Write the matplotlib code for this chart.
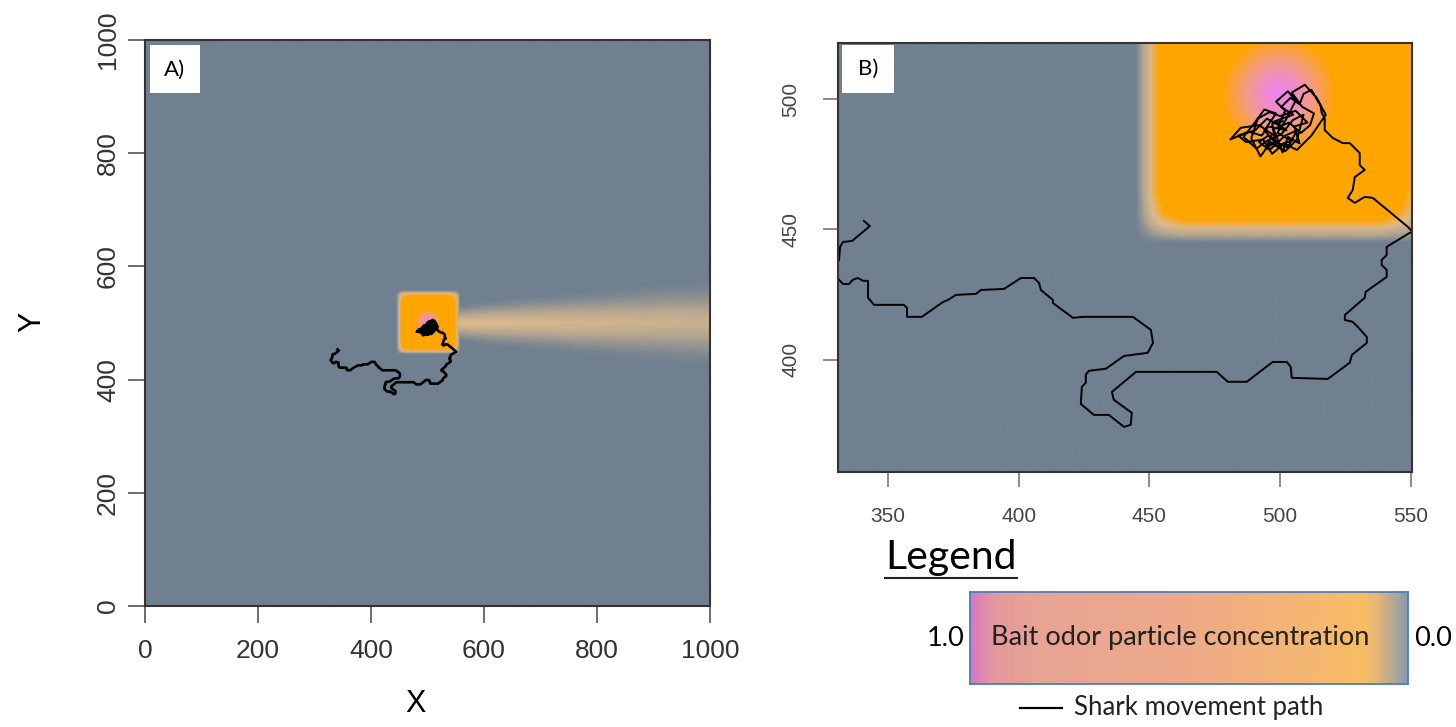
import matplotlib
matplotlib.use("Agg")
import matplotlib.pyplot as plt
import numpy as np
from matplotlib.colors import LinearSegmentedColormap
from matplotlib.lines import Line2D
from matplotlib.patches import Rectangle

# ---- data ----
# odor source: concentration profile across the bait square (same along x and y)
sq_pos = [445, 449, 452, 456, 464, 538, 546, 551, 554, 558]
sq_val = [0.0, 0.22, 0.42, 0.60, 0.76, 0.76, 0.60, 0.42, 0.22, 0.0]
# radial peak at the bait itself
bait_xy = (500, 502)
peak_r = [0, 6, 12, 20, 30]
peak_val = [1.0, 0.95, 0.86, 0.72, 0.5]

# downstream plume (panel A): core value and half width along x, shape across
plume_x = [546, 556, 600, 700, 800, 900, 1000]
plume_core = [0.0, 0.26, 0.25, 0.24, 0.22, 0.20, 0.19]
plume_halfwidth = [30, 33, 40, 50, 60, 70, 78]
across_pos = [0.0, 0.2, 0.4, 0.6, 0.8, 1.0]
across_val = [1.0, 0.8, 0.5, 0.28, 0.1, 0.0]

# shark movement path (x, y)
path_pts = [
    (340.8, 453.3), (343.1, 451.3), (336.3, 445.6), (332.8, 445.2), (331.7, 443.3),
    (331.3, 438.3), (328.5, 434.5), (331.3, 430.7), (332.8, 429.1), (335.1, 429.1),
    (336.6, 430.7), (338.5, 431.4), (340.5, 430.3), (342.4, 430.3), (342.4, 423.8),
    (344.7, 421.1), (356.1, 421.1), (357.3, 419.9), (357.3, 416.5), (363.0, 416.5),
    (371.1, 422.2), (373.0, 423.0), (376.0, 424.9), (383.7, 425.3), (385.6, 426.8),
    (394.4, 427.2), (400.9, 431.4), (405.9, 431.4), (407.8, 429.5), (408.5, 426.8),
    (413.1, 423.0), (413.1, 421.8), (420.8, 416.1), (424.6, 416.5), (443.7, 416.5),
    (450.6, 411.5), (451.4, 406.5), (449.4, 402.7), (440.3, 401.5), (433.4, 396.6),
    (426.9, 395.8), (425.7, 394.3), (425.7, 391.2), (424.2, 389.7), (423.8, 383.1),
    (428.8, 378.9), (434.5, 378.9), (440.3, 374.3), (442.9, 375.1), (443.3, 379.7),
    (436.4, 384.7), (435.7, 387.7), (444.9, 395.4), (475.8, 395.4), (480.0, 391.6),
    (487.3, 391.6), (497.2, 399.2), (502.6, 399.2), (504.1, 397.3), (504.5, 393.1),
    (518.3, 392.7), (526.7, 398.9), (527.5, 401.9), (533.2, 406.5), (533.2, 408.8),
    (529.8, 412.6), (527.8, 414.6), (524.8, 415.3), (524.8, 417.2), (532.4, 423.8),
    (532.8, 426.1), (540.8, 431.8), (540.8, 434.5), (538.9, 436.4), (538.9, 438.3),
    (540.8, 440.2), (540.8, 443.3), (549.6, 448.7), (550.8, 449.0), (548.9, 451.0),
    (535.5, 462.1), (532.4, 462.5), (528.6, 460.2), (525.9, 462.1), (527.8, 465.1),
    (528.6, 470.1), (532.4, 472.8), (530.5, 474.7), (530.5, 479.3), (526.7, 483.1),
    (524.0, 483.1), (520.2, 485.1), (517.1, 488.1), (517.1, 492.7), (516.0, 494.6),
]
# tangle around the bait
tangle_pts = [
    (515.5, 497.5), (512.0, 503.5), (509.0, 502.0), (507.5, 498.0), (504.0, 500.5),
    (500.5, 497.0), (505.0, 494.0), (498.0, 491.5), (502.5, 488.0), (495.5, 489.5),
    (493.0, 486.0), (488.0, 487.5), (481.0, 484.5), (485.0, 489.0), (492.0, 490.0),
    (497.0, 486.5), (494.5, 481.0), (499.0, 484.0), (501.0, 479.5), (503.0, 485.5),
    (507.5, 483.0), (505.5, 489.5), (510.5, 491.0), (506.0, 495.5), (500.0, 493.5),
    (496.0, 495.0), (491.5, 492.5), (489.0, 485.0), (492.5, 478.0), (496.5, 483.5),
    (500.5, 481.0), (497.5, 488.5), (503.5, 491.0), (508.0, 487.0), (511.5, 490.0),
    (513.0, 494.5), (508.5, 497.0), (504.5, 502.5), (509.5, 505.5), (514.0, 500.5),
    (517.5, 494.0), (512.0, 486.0), (506.5, 480.5), (501.5, 483.0), (497.0, 479.0),
    (493.5, 484.5), (487.0, 483.5), (484.0, 486.0), (490.5, 488.0), (495.0, 492.5),
    (499.5, 490.0), (502.0, 495.5), (498.5, 499.0), (503.0, 503.0), (506.0, 499.5),
    (502.5, 492.5), (499.0, 487.0), (504.5, 484.0), (500.0, 482.5), (495.5, 486.0),
    (492.0, 483.5), (496.0, 480.5), (502.0, 486.0), (506.5, 488.0), (503.0, 481.5),
    (498.0, 483.5), (494.0, 488.0), (498.5, 494.5), (494.0, 496.0), (490.0, 490.5),
    (486.0, 485.5), (491.0, 481.0), (495.0, 484.0), (500.5, 486.5), (505.0, 492.0),
    (509.0, 494.0), (506.5, 484.5), (502.0, 480.0), (498.5, 482.0), (497.0, 490.5),
    (501.0, 491.5),
]

ticks_a = [0, 200, 400, 600, 800, 1000]
ticks_bx = [350, 400, 450, 500, 550]
ticks_by = [400, 450, 500]

# colour scale: 0 = no odor (slate gray) -> tan -> orange -> violet at the bait
cmap_stops = [0.0, 0.12, 0.25, 0.38, 0.68, 0.86, 1.0]
cmap_cols = ["#708090", "#B4A690", "#DCB98C", "#FFA500", "#FFA500", "#F39A8E", "#EE82EE"]
odor_cmap = LinearSegmentedColormap.from_list("odor", list(zip(cmap_stops, cmap_cols)))

legend_stops = [0.0, 0.05, 0.15, 0.5, 0.8, 0.9, 0.93, 1.0]
legend_cols = ["#D878C0", "#E4989E", "#E8A494", "#EEAA88", "#F5B870", "#F9BE62", "#E8B878", "#8C9CAE"]
legend_cmap = LinearSegmentedColormap.from_list("leg", list(zip(legend_stops, legend_cols)))


def odor_field(x0, x1, y0, y1, step):
    xs = np.arange(x0, x1 + step, step)
    ys = np.arange(y0, y1 + step, step)
    xx, yy = np.meshgrid(xs, ys)
    sq = np.interp(xx, sq_pos, sq_val) * np.interp(yy, sq_pos, sq_val)
    r = np.hypot(xx - bait_xy[0], yy - bait_xy[1])
    peak = np.interp(r, peak_r, peak_val, right=0.0)
    hw = np.interp(xx, plume_x, plume_halfwidth)
    pl = np.interp(xx, plume_x, plume_core) * np.interp(np.abs(yy - 500) / hw, across_pos, across_val)
    return np.maximum(np.maximum(sq, peak), pl)


W, H = 1456, 727
fig = plt.figure(figsize=(W / 100, H / 100), dpi=100)


def fig_rect(left, top, right, bottom):
    return [left / W, 1 - bottom / H, (right - left) / W, (bottom - top) / H]


path = np.array(path_pts + tangle_pts)
tick_font = "Liberation Sans"
box_font = "Lato"

# ===== Panel A =====
axA = fig.add_axes(fig_rect(145, 40, 710, 606))
axA.imshow(odor_field(0, 1000, 0, 1000, 2), extent=[0, 1000, 0, 1000], origin="lower",
           cmap=odor_cmap, vmin=0, vmax=1, interpolation="bilinear", aspect="auto")
axA.plot(path[:, 0], path[:, 1], color="black", lw=1.9, solid_joinstyle="round")
axA.set_xlim(0, 1000)
axA.set_ylim(0, 1000)
axA.set_xticks(ticks_a)
axA.set_yticks(ticks_a)
axA.tick_params(direction="out", length=12, width=1.2, color="#555555",
                labelsize=19, labelcolor="#333333")
axA.tick_params(axis="x", pad=12)
axA.tick_params(axis="y", pad=6, labelrotation=90)
for lab in axA.get_yticklabels() + axA.get_xticklabels():
    lab.set_fontfamily(tick_font)
for lab in axA.get_yticklabels():
    lab.set_va("center")
for sp in axA.spines.values():
    sp.set_color("#333333")
    sp.set_linewidth(1.5)
axA.add_patch(Rectangle((0.009, 0.906), 0.088, 0.085, transform=axA.transAxes,
                        facecolor="white", edgecolor="none", zorder=5))
axA.text(0.053, 0.948, "A)", transform=axA.transAxes, ha="center", va="center",
         fontsize=16, family=box_font, zorder=6)
fig.text(416 / W, 1 - 704 / H, "X", ha="center", va="center", fontsize=22, family=tick_font)
fig.text(32 / W, 1 - 322 / H, "Y", ha="center", va="center", fontsize=22, family=tick_font,
         rotation=90)

# ===== Panel B =====
bx0, bx1, by0, by1 = 330.9, 550.5, 357.0, 521.5
axB = fig.add_axes(fig_rect(838, 43, 1412, 472))
axB.imshow(odor_field(bx0 - 2, bx1 + 2, by0 - 2, by1 + 2, 0.5),
           extent=[bx0 - 2, bx1 + 2, by0 - 2, by1 + 2], origin="lower",
           cmap=odor_cmap, vmin=0, vmax=1, interpolation="bilinear", aspect="auto")
axB.plot(path[:, 0], path[:, 1], color="black", lw=1.4, solid_joinstyle="round")
axB.set_xlim(bx0, bx1)
axB.set_ylim(by0, by1)
axB.set_xticks(ticks_bx)
axB.set_yticks(ticks_by)
axB.tick_params(direction="out", length=11, width=1.2, color="#777777",
                labelsize=15, labelcolor="#444444")
axB.tick_params(axis="x", pad=14)
axB.tick_params(axis="y", pad=16, labelrotation=90)
for lab in axB.get_yticklabels() + axB.get_xticklabels():
    lab.set_fontfamily(tick_font)
for lab in axB.get_yticklabels():
    lab.set_va("center")
for sp in axB.spines.values():
    sp.set_color("#333333")
    sp.set_linewidth(1.5)
axB.add_patch(Rectangle((0.007, 0.883), 0.09, 0.112, transform=axB.transAxes,
                        facecolor="white", edgecolor="none", zorder=5))
axB.text(0.052, 0.939, "B)", transform=axB.transAxes, ha="center", va="center",
         fontsize=16, family=box_font, zorder=6)

# ===== Legend =====
fig.text(885 / W, 1 - 557 / H, "Legend", ha="left", va="center", fontsize=29.5, family=box_font)
fig.add_artist(Line2D([885 / W, 1017 / W], [1 - 578 / H, 1 - 578 / H], color="#222222", lw=1.5))

axL = fig.add_axes(fig_rect(970, 592, 1408, 684))
axL.imshow(np.linspace(0, 1, 400)[None, :], cmap=legend_cmap, aspect="auto",
           extent=[0, 1, 0, 1], interpolation="bilinear")
axL.set_xticks([])
axL.set_yticks([])
for sp in axL.spines.values():
    sp.set_color("#4A7EBB")
    sp.set_linewidth(1.3)
axL.text(0.48, 0.5, "Bait odor particle concentration", ha="center", va="center",
         fontsize=19.5, family=box_font, color="#222222")
fig.text(946 / W, 1 - 638 / H, "1.0", ha="center", va="center", fontsize=19.5, family=box_font)
fig.text(1433 / W, 1 - 638 / H, "0.0", ha="center", va="center", fontsize=19.5, family=box_font)
fig.add_artist(Line2D([1020 / W, 1062 / W], [1 - 708 / H, 1 - 708 / H], color="black", lw=1.6))
fig.text(1074 / W, 1 - 708 / H, "Shark movement path", ha="left", va="center",
         fontsize=18.5, family=box_font, color="#222222")

fig.savefig("out.png", dpi=100)
